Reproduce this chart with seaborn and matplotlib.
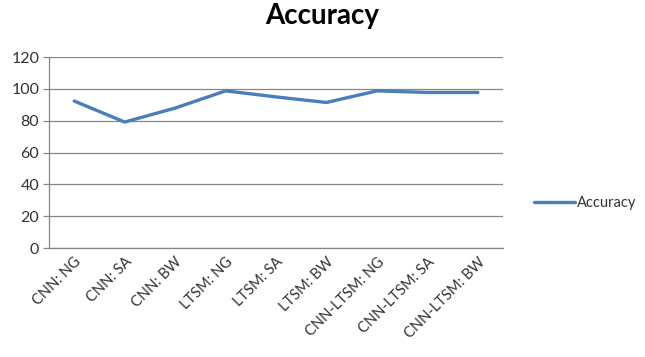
import pandas as pd
import matplotlib
matplotlib.use('Agg')
import matplotlib.pyplot as plt
import seaborn as sns
from matplotlib import ticker

categories = ['CNN: NG', 'CNN: SA', 'CNN: BW',
              'LTSM: NG', 'LTSM: SA', 'LTSM: BW',
              'CNN-LTSM: NG', 'CNN-LTSM: SA', 'CNN-LTSM: BW']
accuracy = [92.4, 79.2, 88.0, 98.8, 95.0, 91.5, 98.8, 97.8, 97.8]
y_ticks = [0, 20, 40, 60, 80, 100, 120]

sns.set_style('white')
plt.rcParams['font.family'] = ['Lato', 'DejaVu Sans']

df = pd.DataFrame({'model': categories, 'Accuracy': accuracy})

fig = plt.figure(figsize=(6.45, 3.57), dpi=100)
ax = fig.add_axes([0.076, 0.305, 0.704, 0.535])

grid_color = '#868686'
text_color = '#333333'

sns.lineplot(data=df, x='model', y='Accuracy', ax=ax, color='#4a7ebb',
             linewidth=2.4, label='Accuracy', sort=False)

ax.set_xlim(-0.5, len(categories) - 0.5)
ax.set_ylim(0, 120)
ax.set_yticks(y_ticks)
ax.yaxis.grid(True, color=grid_color, linewidth=0.9)
ax.set_axisbelow(True)

# category boundaries get the tick marks, labels sit at the centres
ax.xaxis.set_minor_locator(ticker.FixedLocator([i - 0.5 for i in range(len(categories) + 1)]))
ax.tick_params(axis='x', which='major', length=0, pad=5, labelsize=10.5, labelcolor=text_color)
ax.tick_params(axis='x', which='minor', length=5, width=0.9, color=grid_color, direction='out')
ax.tick_params(axis='y', which='major', length=4, width=0.9, color=grid_color, direction='out',
               labelsize=11.5, labelcolor=text_color, left=True, pad=3)
plt.setp(ax.get_xticklabels(), rotation=45, ha='right', rotation_mode='anchor')

for side in ['top', 'right']:
    ax.spines[side].set_visible(False)
for side in ['left', 'bottom']:
    ax.spines[side].set_color(grid_color)
    ax.spines[side].set_linewidth(0.9)

ax.set_xlabel('')
ax.set_ylabel('')

fig.text(0.5, 0.955, 'Accuracy', ha='center', va='center', fontsize=20,
         fontweight='bold', color='black')

ax.legend(loc='center left', bbox_to_anchor=(1.04, 0.236), frameon=False,
          fontsize=10.5, handlelength=2.8, handletextpad=0.15, labelcolor=text_color)

fig.savefig('out.png', dpi=100)
